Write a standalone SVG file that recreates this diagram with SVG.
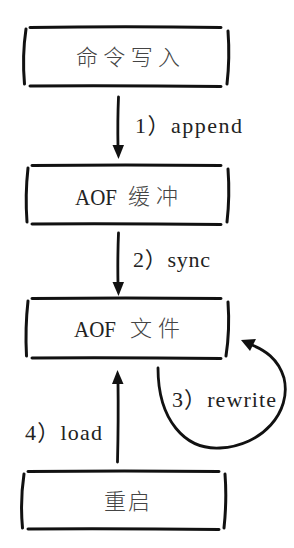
<svg xmlns="http://www.w3.org/2000/svg" width="294" height="548" viewBox="0 0 294 548">
<style>
.edge{fill:none;stroke:#111;stroke-width:3;stroke-linecap:round}
.side{fill:none;stroke:#111;stroke-width:3;stroke-linecap:round}
.cn{font-family:"Noto Sans CJK SC",sans-serif;font-size:22px;font-weight:300;fill:#444}
.lbl{font-family:"Liberation Serif","Noto Sans CJK SC",serif;font-size:22px;fill:#222}
.conn{fill:none;stroke:#111;stroke-width:2.8;stroke-linecap:round}
.head{fill:#111}
</style>
<rect width="294" height="548" fill="#fff"/>
<g id="node-write">
<path class="edge" d="M30,27.5 Q125,26 221,27.5"/>
<path class="edge" d="M30,86 Q125,85.5 221,86.5"/>
<path class="side" d="M26,29 Q22,56 24.5,84"/>
<path class="side" d="M228,31 Q230,58 227,84"/>
<text class="cn" x="128" y="65" text-anchor="middle" textLength="104" lengthAdjust="spacing">命令写入</text>
</g>
<g id="node-buffer">
<path class="edge" d="M32,165.5 Q125,164.5 221,165.5"/>
<path class="edge" d="M32,224 Q125,223.5 221,224.5"/>
<path class="side" d="M28,168 Q25,195 27,222"/>
<path class="side" d="M228,169 Q230,196 227,222"/>
<text class="lbl" x="75" y="205" textLength="42" lengthAdjust="spacingAndGlyphs" style="font-size:24px">AOF</text>
<text class="cn" x="153" y="204" text-anchor="middle" textLength="50" lengthAdjust="spacing">缓冲</text>
</g>
<g id="node-file">
<path class="edge" d="M32,298.5 Q125,297.5 221,298.5"/>
<path class="edge" d="M32,358 Q125,357.5 221,358.5"/>
<path class="side" d="M28,301 Q25,328 26.5,356"/>
<path class="side" d="M228,302 Q230,330 226,356"/>
<text class="lbl" x="74" y="337" textLength="42" lengthAdjust="spacingAndGlyphs" style="font-size:24px">AOF</text>
<text class="cn" x="155" y="336" text-anchor="middle" textLength="50" lengthAdjust="spacing">文件</text>
</g>
<g id="node-restart">
<path class="edge" d="M28,471.5 Q125,470.5 219,471.5"/>
<path class="edge" d="M28,529 Q125,528.5 219,529.5"/>
<path class="side" d="M24,474 Q20,501 22.5,528"/>
<path class="side" d="M225,474 Q227,500 224,528"/>
<text class="cn" x="127" y="509" text-anchor="middle" textLength="46" lengthAdjust="spacing">重启</text>
</g>
<g id="connectors">
<path class="conn" d="M118.5,97 Q117.5,120 118,147"/>
<polygon class="head" points="112.5,145 124,145 118.5,159"/>
<text class="lbl" x="135" y="133" textLength="107" lengthAdjust="spacing">1）append</text>
<path class="conn" d="M118.5,233 Q117.5,258 118,284"/>
<polygon class="head" points="112.5,282 124,282 118.5,296"/>
<text class="lbl" x="133" y="267" textLength="77" lengthAdjust="spacing">2）sync</text>
<path class="conn" d="M117.5,462 Q118.5,420 118,382"/>
<polygon class="head" points="112,384 123.5,384 117.5,370"/>
<text class="lbl" x="25" y="440" textLength="77" lengthAdjust="spacing">4）load</text>
<path class="conn" d="M158,368 C158,420 185,450 220,448 C262,446 292,412 284,378 C278,358 264,350 252,345"/>
<polygon class="head" points="241,340 256,339 250,351"/>
<text class="lbl" x="172" y="407" textLength="104" lengthAdjust="spacing">3）rewrite</text>
</g>
</svg>
